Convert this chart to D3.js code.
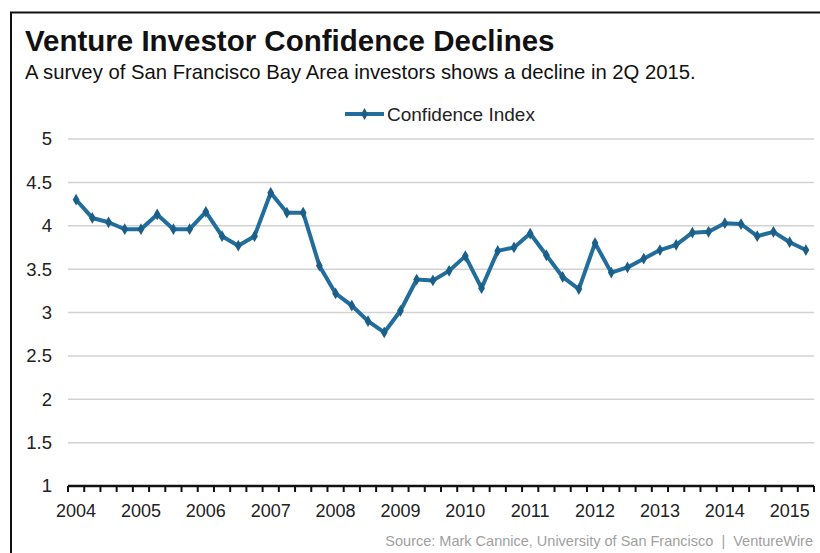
<!DOCTYPE html>
<html>
<head>
<meta charset="utf-8">
<script src="https://cdn.jsdelivr.net/npm/d3@7"></script>
<style>
  body { margin: 0; background: #fff; }
  svg { display: block; font-family: "Liberation Sans", Arial, sans-serif; }
</style>
</head>
<body>
<div id="chart"></div>
<script>
// quarters 2004Q1 .. 2015Q2
const years = [2004, 2005, 2006, 2007, 2008, 2009, 2010, 2011, 2012, 2013, 2014, 2015];
const quarters = ["Q1", "Q2", "Q3", "Q4"];
const confidence = [
  4.30, 4.09, 4.04, 3.96,   // 2004
  3.96, 4.13, 3.96, 3.96,   // 2005
  4.16, 3.88, 3.77, 3.88,   // 2006
  4.38, 4.15, 4.15, 3.54,   // 2007
  3.22, 3.08, 2.90, 2.77,   // 2008
  3.02, 3.38, 3.37, 3.48,   // 2009
  3.65, 3.28, 3.71, 3.75,   // 2010
  3.91, 3.66, 3.41, 3.27,   // 2011
  3.80, 3.46, 3.52, 3.62,   // 2012
  3.72, 3.78, 3.92, 3.93,   // 2013
  4.03, 4.02, 3.88, 3.93,   // 2014
  3.81, 3.72                // 2015
];
const yTicks = [1, 1.5, 2, 2.5, 3, 3.5, 4, 4.5, 5];

const periods = [];
years.forEach(y => quarters.forEach(q => periods.push(y + q)));
periods.length = confidence.length;
const data = periods.map((p, i) => ({ period: p, value: confidence[i] }));

const width = 820, height = 553;
const margin = { left: 68, right: 6, top: 139, bottom: 67 };

const svg = d3.select("#chart")
  .append("svg")
  .attr("width", width)
  .attr("height", height);

// frame
svg.append("rect")
  .attr("x", 11).attr("y", 12.5)
  .attr("width", width + 20).attr("height", height + 20)
  .attr("fill", "none")
  .attr("stroke", "#111")
  .attr("stroke-width", 2);

// title
svg.append("text")
  .attr("x", 25).attr("y", 51)
  .attr("font-size", 29.5)
  .attr("font-weight", "bold")
  .attr("fill", "#111")
  .text("Venture Investor Confidence Declines");

svg.append("text")
  .attr("x", 25).attr("y", 79)
  .attr("font-size", 20.3)
  .attr("fill", "#111")
  .text("A survey of San Francisco Bay Area investors shows a decline in 2Q 2015.");

const x = d3.scaleBand()
  .domain(periods)
  .range([margin.left, width - margin.right])
  .paddingInner(0).paddingOuter(0);

const y = d3.scaleLinear()
  .domain([1, 5])
  .range([height - margin.bottom, margin.top]);

const blue = "#216d9b";

// grid
svg.append("g")
  .selectAll("line")
  .data(yTicks.filter(t => t > 1))
  .join("line")
  .attr("x1", margin.left).attr("x2", width - margin.right)
  .attr("y1", d => y(d)).attr("y2", d => y(d))
  .attr("stroke", "#d2d2d2")
  .attr("stroke-width", 1.5);

// y axis labels
svg.append("g")
  .selectAll("text")
  .data(yTicks)
  .join("text")
  .attr("x", 52)
  .attr("y", d => y(d))
  .attr("dy", "0.35em")
  .attr("text-anchor", "end")
  .attr("font-size", 18.5)
  .attr("fill", "#222")
  .text(d => d);

// x axis
const xAxis = svg.append("g")
  .attr("transform", `translate(0,${y(1)})`);

xAxis.append("line")
  .attr("x1", margin.left).attr("x2", width - margin.right)
  .attr("stroke", "#111")
  .attr("stroke-width", 2.5);

const boundaries = periods.map(p => x(p)).concat([x(periods[periods.length - 1]) + x.bandwidth()]);
xAxis.selectAll("line.tick")
  .data(boundaries)
  .join("line")
  .attr("class", "tick")
  .attr("x1", d => d).attr("x2", d => d)
  .attr("y1", 0).attr("y2", 6)
  .attr("stroke", "#111")
  .attr("stroke-width", 2);

xAxis.selectAll("text")
  .data(years)
  .join("text")
  .attr("x", d => x(d + "Q1") + x.bandwidth() / 2)
  .attr("y", 30.5)
  .attr("text-anchor", "middle")
  .attr("font-size", 18)
  .attr("fill", "#222")
  .text(d => d);

// line
const line = d3.line()
  .x(d => x(d.period) + x.bandwidth() / 2)
  .y(d => y(d.value));

svg.append("path")
  .datum(data)
  .attr("d", line)
  .attr("fill", "none")
  .attr("stroke", blue)
  .attr("stroke-width", 4)
  .attr("stroke-linejoin", "round");

const diamond = d3.symbol().type(d3.symbolDiamond).size(40);
svg.append("g")
  .selectAll("path")
  .data(data)
  .join("path")
  .attr("transform", d => `translate(${x(d.period) + x.bandwidth() / 2},${y(d.value)})`)
  .attr("d", diamond)
  .attr("fill", "#1b5f88");

// legend
const lg = svg.append("g").attr("transform", "translate(345,114)");
lg.append("line")
  .attr("x1", 0).attr("x2", 39)
  .attr("stroke", blue)
  .attr("stroke-width", 4);
lg.append("path")
  .attr("transform", "translate(19.5,0)")
  .attr("d", diamond)
  .attr("fill", "#1b5f88");
lg.append("text")
  .attr("x", 42).attr("y", 0)
  .attr("dy", "0.35em")
  .attr("font-size", 19)
  .attr("fill", "#222")
  .text("Confidence Index");

// source
svg.append("text")
  .attr("x", 813).attr("y", 546)
  .attr("text-anchor", "end")
  .attr("font-size", 14.5)
  .attr("fill", "#a0a0a0")
  .attr("xml:space", "preserve")
  .text("Source: Mark Cannice, University of San Francisco  |  VentureWire");
</script>
</body>
</html>
